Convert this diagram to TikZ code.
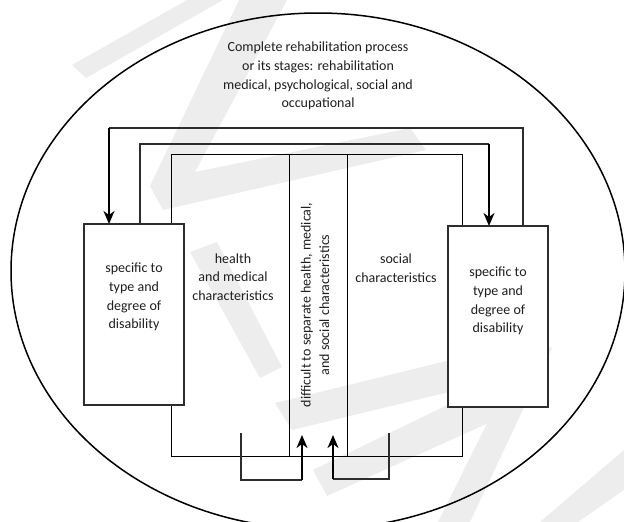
\documentclass[tikz,border=0pt]{standalone}
\usepackage{fontspec}
\setmainfont{Carlito}
\usetikzlibrary{arrows.meta}
\definecolor{wm}{RGB}{237,237,237}
\definecolor{ln}{RGB}{45,45,45}
\definecolor{tx}{RGB}{30,30,30}
\begin{document}
\begin{tikzpicture}[x=1pt,y=-1pt,
  txt/.style={font=\fontsize{14}{18.6}\selectfont, align=center, text=tx, inner sep=0pt},
  box/.style={draw=ln, line width=1.3pt, fill=white, inner sep=0pt},
  frame/.style={draw=black, line width=0.9pt},
  loopline/.style={draw=ln, line width=1.4pt},
  arr/.style={draw=black, line width=2.2pt, -{Stealth[length=13pt,width=11pt,inset=4pt]}}
]
\useasboundingbox (0,0) rectangle (624,522);
\clip (0,0) rectangle (624,522);
% watermark
\fill[wm] (72,65) -- (187,0) -- (223,0) -- (86,78) -- cycle;
\fill[wm] (239,0) -- (150,186) -- (163,210) -- (426,150) -- (410,128) -- (195,172) -- (287,0) -- cycle;
\fill[wm] (190,252) -- (217,242) -- (282,367) -- (260,378) -- cycle;
\fill[wm] (275,403) -- (292,430) -- (540,370) -- (528,341) -- cycle;
\fill[wm] (528,341) -- (552,348) -- (470,522) -- (438,522) -- cycle;
\fill[wm] (313,470) -- (327,496) -- (495,420) -- (495,382) -- cycle;
\fill[wm] (540,522) -- (578,522) -- (624,490) -- (624,450) -- cycle;
% outer ellipse
\draw[line width=1.5pt] (318,271) ellipse [x radius=307pt, y radius=258pt];
% central frame
\node[frame, minimum width=291pt, minimum height=302pt, inner sep=0pt] (crect) at (316.5,305) {};
\coordinate (v1t) at (289,154); \coordinate (v1b) at (289,456);
\coordinate (v2t) at (347,154); \coordinate (v2b) at (347,456);
\draw[frame] (v1t) -- (v1b);
\draw[frame] (v2t) -- (v2b);
% boxes
\node[box, minimum width=100pt, minimum height=181pt] (lbox) at (134,314.5) {};
\node[box, minimum width=100pt, minimum height=181pt] (rbox) at (498,316.5) {};
% loops
\coordinate (l1a) at (523,226); \coordinate (l1c) at (109,128); \coordinate (l1d) at (109,224);
\draw[loopline] (l1a) |- (l1c);
\draw[arr] (l1c) -- (l1d);
\coordinate (l2a) at (140,224); \coordinate (l2c) at (489,144); \coordinate (l2d) at (489,226);
\draw[loopline] (l2a) |- (l2c);
\draw[arr] (l2c) -- (l2d);
% brackets
\coordinate (b1a) at (241,433); \coordinate (b1c) at (302,480); \coordinate (b1d) at (302,435);
\draw[loopline] (b1a) |- (b1c);
\draw[arr] (b1c) -- (b1d);
\coordinate (b2a) at (389,433); \coordinate (b2c) at (333,479); \coordinate (b2d) at (333,435);
\draw[loopline] (b2a) |- (b2c);
\draw[arr] (b2c) -- (b2d);
% texts
\node[txt] (title) at (318,76) {Complete rehabilitation process\\or its stages: rehabilitation\\medical, psychological, social and\\occupational};
\node[txt] (ltxt) at (134,297) {specific to\\type and\\degree of\\disability};
\node[txt] (rtxt) at (498,301) {specific to\\type and\\degree of\\disability};
\node[txt] (health) at (233,277) {health\\and medical\\characteristics};
\node[txt] (social) at (396,268) {social\\characteristics};
\node[txt, rotate=90] (mid) at (315,305) {difficult to separate health, medical,\\and social characteristics};
\end{tikzpicture}
\end{document}
